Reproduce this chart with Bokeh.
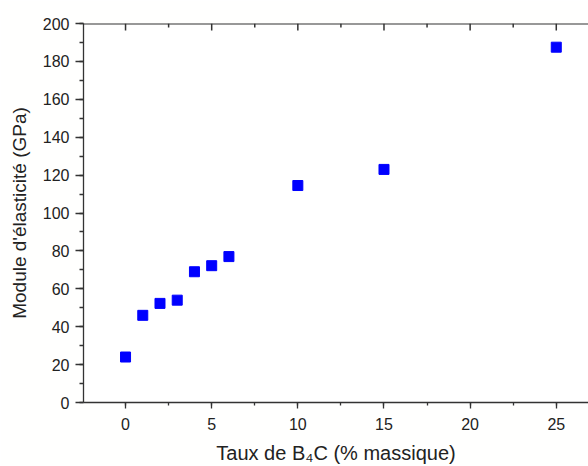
from bokeh.plotting import figure
from bokeh.models import Range1d, SingleIntervalTicker, Span
from bokeh.embed import file_html
from bokeh.resources import INLINE

# Data
taux_b4c = [0, 1, 2, 3, 4, 5, 6, 10, 15, 25]
module = [24, 46, 52.3, 54, 69, 72.2, 77, 114.5, 123, 187.5]

x_major = [0, 5, 10, 15, 20, 25]
x_minor = [-2.5, 2.5, 7.5, 12.5, 17.5, 22.5]
Y_MIN, Y_MAX = 0, 200

x_label = "Taux de B\u2084C (% massique)"
y_label = "Module d'élasticité (GPa)"

FONT = "Liberation Sans"
H, TOP, BOTTOM = 466, 23, 62
frame_h = H - TOP - BOTTOM
px = (Y_MAX - Y_MIN) / frame_h  # data units per pixel

p = figure(width=588, height=H, output_backend="svg", toolbar_location=None,
           x_range=Range1d(-2.44, 26.87), y_range=Range1d(Y_MIN, Y_MAX),
           min_border_left=83, min_border_top=TOP, min_border_right=0, min_border_bottom=BOTTOM,
           x_axis_label=x_label, y_axis_label=y_label)
p.outline_line_color = None
p.xgrid.visible = False
p.ygrid.visible = False
p.background_fill_color = "white"
p.border_fill_color = "#fffffe"

axcol = "#333333"

# top frame edge with inward ticks
p.add_layout(Span(location=Y_MAX, dimension="width", line_color=axcol, line_width=2))
p.segment(x0=x_major, x1=x_major, y0=[Y_MAX] * len(x_major), y1=[Y_MAX - 7 * px] * len(x_major),
          line_color=axcol, line_width=1.5)
p.segment(x0=x_minor, x1=x_minor, y0=[Y_MAX] * len(x_minor), y1=[Y_MAX - 4 * px] * len(x_minor),
          line_color=axcol, line_width=1.5)

p.scatter(taux_b4c, module, marker="square", size=10, fill_color="#0000ff", line_color="#0000ff")

for ax in p.xaxis:
    ax.ticker = SingleIntervalTicker(interval=5, num_minor_ticks=2)
    ax.major_tick_out = 6
    ax.minor_tick_out = 3
for ax in p.yaxis:
    ax.ticker = SingleIntervalTicker(interval=20, num_minor_ticks=2)
    ax.major_tick_out = 8
    ax.minor_tick_out = 4
for ax in p.xaxis + p.yaxis:
    ax.axis_line_color = axcol
    ax.axis_line_width = 1.3
    ax.major_tick_line_color = axcol
    ax.minor_tick_line_color = axcol
    ax.major_tick_line_width = 1.3
    ax.minor_tick_line_width = 1.3
    ax.major_tick_in = 0
    ax.minor_tick_in = 0
    ax.major_label_text_font = FONT
    ax.major_label_text_font_size = "16px"
    ax.major_label_text_color = "#222222"
    ax.axis_label_text_font = FONT
    ax.axis_label_text_font_style = "normal"
    ax.axis_label_text_color = "#222222"
p.xaxis.axis_label_text_font_size = "20px"
p.yaxis.axis_label_text_font_size = "19px"
p.xaxis.axis_label_standoff = 9
p.yaxis.axis_label_standoff = 10
p.xaxis.major_label_standoff = 9
p.yaxis.major_label_standoff = 6

open("out.html", "w").write(file_html(p, INLINE))
